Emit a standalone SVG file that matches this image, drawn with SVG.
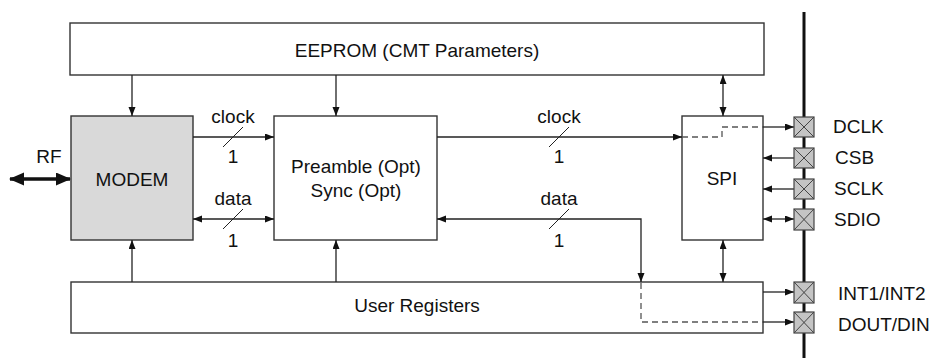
<svg xmlns="http://www.w3.org/2000/svg" width="936" height="360" viewBox="0 0 936 360">
<defs>
<marker id="ah" markerUnits="userSpaceOnUse" markerWidth="10" markerHeight="8" refX="9" refY="3.5" orient="auto-start-reverse"><path d="M0,0 L9,3.5 L0,7 z" fill="#111"/></marker>
<marker id="big" markerUnits="userSpaceOnUse" markerWidth="16" markerHeight="14" refX="14" refY="6.5" orient="auto-start-reverse"><path d="M0,0 L15,6.5 L0,13 z" fill="#111"/></marker>
</defs>
<style>
.box{fill:#fff;stroke:#333;stroke-width:1.4}
.gray{fill:#d9d9d9}
.t{font-family:"Liberation Sans",Arial,sans-serif;font-size:19px;fill:#111}
.m{text-anchor:middle}
.ln{fill:none;stroke:#222;stroke-width:1.3}
.dash{fill:none;stroke:#555;stroke-width:1.3;stroke-dasharray:6,4}
.sl{stroke:#222;stroke-width:1}
.pad{fill:#c4c4c4;stroke:#444;stroke-width:1.2}
.x{stroke:#444;stroke-width:1}
</style>
<rect width="936" height="360" fill="#fff"/>
<g id="bus"><line x1="804" y1="12" x2="804" y2="358" stroke="#111" stroke-width="3"/></g>
<g id="eeprom"><rect class="box" x="70" y="23" width="694" height="52"/><text class="t m" x="417" y="57">EEPROM (CMT Parameters)</text></g>
<g id="modem"><rect class="box gray" x="71" y="116" width="122" height="124"/><text class="t m" x="132" y="186">MODEM</text></g>
<g id="preamble"><rect class="box" x="274" y="116" width="163" height="124"/><text class="t m" x="356" y="173">Preamble (Opt)</text><text class="t m" x="356" y="197">Sync (Opt)</text></g>
<g id="spi"><rect class="box" x="682" y="116" width="81" height="124"/><text class="t m" x="722" y="185">SPI</text></g>
<g id="userreg"><rect class="box" x="71" y="282" width="692" height="51"/><text class="t m" x="417" y="312">User Registers</text></g>
<g id="connectors">
<line class="ln" x1="132" y1="75" x2="132" y2="116" marker-end="url(#ah)"/>
<line class="ln" x1="336" y1="75" x2="336" y2="116" marker-end="url(#ah)"/>
<line class="ln" x1="723" y1="75" x2="723" y2="116" marker-start="url(#ah)" marker-end="url(#ah)"/>
<line class="ln" x1="132" y1="282" x2="132" y2="240" marker-end="url(#ah)"/>
<line class="ln" x1="336" y1="282" x2="336" y2="240" marker-end="url(#ah)"/>
<line class="ln" x1="723" y1="240" x2="723" y2="282" marker-start="url(#ah)" marker-end="url(#ah)"/>
<line x1="10" y1="179" x2="70" y2="179" stroke="#111" stroke-width="3.5" marker-start="url(#big)" marker-end="url(#big)"/>
<line class="ln" x1="193" y1="137" x2="274" y2="137" marker-end="url(#ah)"/>
<line class="ln" x1="193" y1="219" x2="274" y2="219" marker-start="url(#ah)" marker-end="url(#ah)"/>
<line class="ln" x1="437" y1="137" x2="682" y2="137" marker-end="url(#ah)"/>
<path class="ln" d="M437,219 H641 V282" marker-start="url(#ah)" marker-end="url(#ah)"/>
<path class="dash" d="M641,283 V322 H763"/>
<path class="dash" d="M682,137 H722 V127 H763"/>
<line class="ln" x1="763" y1="127" x2="794" y2="127" marker-end="url(#ah)"/>
<line class="ln" x1="794" y1="158" x2="763" y2="158" marker-end="url(#ah)"/>
<line class="ln" x1="794" y1="189" x2="763" y2="189" marker-end="url(#ah)"/>
<line class="ln" x1="763" y1="219" x2="794" y2="219" marker-start="url(#ah)" marker-end="url(#ah)"/>
<line class="ln" x1="763" y1="292" x2="794" y2="292" marker-end="url(#ah)"/>
<line class="ln" x1="763" y1="322" x2="794" y2="322" marker-end="url(#ah)"/>
<line class="sl" x1="223" y1="147" x2="243" y2="127"/>
<line class="sl" x1="223" y1="229" x2="243" y2="209"/>
<line class="sl" x1="549" y1="147" x2="569" y2="127"/>
<line class="sl" x1="549" y1="229" x2="569" y2="209"/>
<text class="t m" x="49" y="163">RF</text>
<text class="t m" x="233" y="123">clock</text>
<text class="t m" x="233" y="163">1</text>
<text class="t m" x="233" y="205">data</text>
<text class="t m" x="233" y="247">1</text>
<text class="t m" x="559" y="123">clock</text>
<text class="t m" x="559" y="163">1</text>
<text class="t m" x="559" y="205">data</text>
<text class="t m" x="559" y="247">1</text>
</g>
<g id="pad-dclk"><rect class="pad" x="794" y="117" width="20" height="20"/><path class="x" d="M794,117 L814,137 M814,117 L794,137"/><text class="t" x="833" y="133">DCLK</text></g>
<g id="pad-csb"><rect class="pad" x="794" y="148" width="20" height="20"/><path class="x" d="M794,148 L814,168 M814,148 L794,168"/><text class="t" x="835" y="164">CSB</text></g>
<g id="pad-sclk"><rect class="pad" x="794" y="179" width="20" height="20"/><path class="x" d="M794,179 L814,199 M814,179 L794,199"/><text class="t" x="834" y="195">SCLK</text></g>
<g id="pad-sdio"><rect class="pad" x="794" y="209" width="20" height="21"/><path class="x" d="M794,209 L814,230 M814,209 L794,230"/><text class="t" x="834" y="226">SDIO</text></g>
<g id="pad-int"><rect class="pad" x="794" y="282" width="20" height="21"/><path class="x" d="M794,282 L814,303 M814,282 L794,303"/><text class="t" x="838" y="300">INT1/INT2</text></g>
<g id="pad-dout"><rect class="pad" x="794" y="312" width="20" height="21"/><path class="x" d="M794,312 L814,333 M814,312 L794,333"/><text class="t" x="838" y="331">DOUT/DIN</text></g>
</svg>
